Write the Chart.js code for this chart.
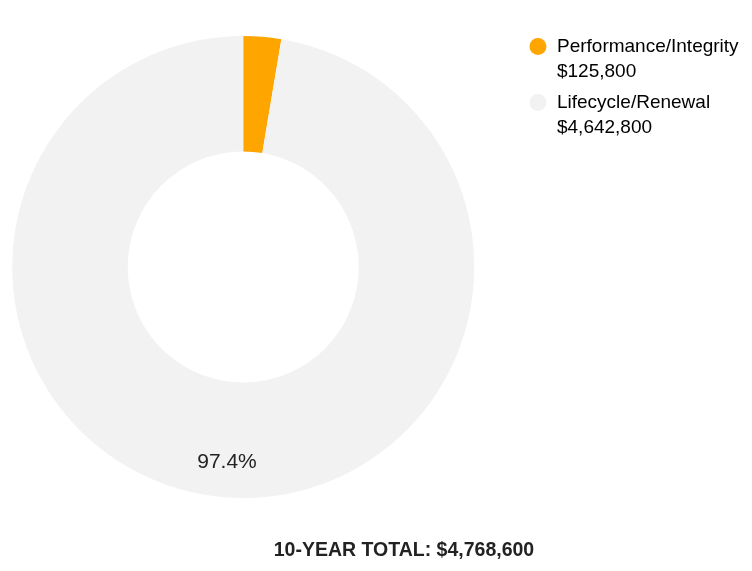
<!DOCTYPE html>
<html lang="en">
<head>
    <meta charset="UTF-8">
    <title>10-Year Cost Split</title>
    <style>
        body {
            margin: 0;
            background: #ffffff;
            font-family: "Liberation Sans", Arial, sans-serif;
            overflow: hidden;
        }
        .wrap {
            position: relative;
            width: 752px;
            height: 571px;
            overflow: hidden;
        }
        /* canvas pushed a bit to the left so the ring sits where it does in the original */
        #costChart {
            position: absolute;
            left: -36px;
            top: 0;
        }
        #total {
            position: absolute;
            left: 152px;
            width: 504px;
            top: 538px;
            text-align: center;
            font-size: 19.5px;
            font-weight: bold;
            color: #222;
        }
    </style>
</head>
<body>
    <div class="wrap">
        <canvas id="costChart" width="788" height="571"></canvas>
        <div id="total"></div>
    </div>

    <script src="https://cdn.jsdelivr.net/npm/chart.js"></script>
    <script>
        // data
        const categories = ['Performance/Integrity', 'Lifecycle/Renewal'];
        const amounts = [125800, 4642800];
        const sliceColors = ['#ffa500', '#f2f2f2'];
        const totalLabel = '10-YEAR TOTAL: ';

        const total = amounts.reduce((a, b) => a + b, 0);
        function money(v) {
            return '$' + v.toLocaleString('en-US');
        }
        document.getElementById('total').innerText = totalLabel + money(total);

        // percentage label inside the ring (small slices skipped)
        const sliceLabels = {
            id: 'sliceLabels',
            afterDatasetsDraw(chart) {
                const ctx = chart.ctx;
                const meta = chart.getDatasetMeta(0);
                ctx.save();
                ctx.font = '21px "Liberation Sans", Arial, sans-serif';
                ctx.fillStyle = '#222';
                ctx.textAlign = 'center';
                ctx.textBaseline = 'middle';
                meta.data.forEach((arc, i) => {
                    const pct = amounts[i] / total * 100;
                    if (pct < 5) return;
                    const p = arc.getProps(['x', 'y', 'startAngle', 'endAngle', 'innerRadius', 'outerRadius'], true);
                    const mid = (p.startAngle + p.endAngle) / 2;
                    const r = p.innerRadius + (p.outerRadius - p.innerRadius) * 0.7;
                    ctx.fillText(pct.toFixed(1) + '%', p.x + Math.cos(mid) * r, p.y + Math.sin(mid) * r);
                });
                ctx.restore();
            }
        };

        window.onload = function() {
            const ctx = document.getElementById('costChart').getContext('2d');
            new Chart(ctx, {
                type: 'doughnut',
                data: {
                    labels: categories,
                    datasets: [{
                        data: amounts,
                        backgroundColor: sliceColors,
                        borderWidth: 0,
                        hoverOffset: 0
                    }]
                },
                options: {
                    responsive: false,
                    animation: false,
                    radius: 231,
                    cutout: '50%',
                    layout: {
                        padding: { top: 31, bottom: 68, left: 0, right: 3.4 }
                    },
                    plugins: {
                        tooltip: { enabled: false },
                        legend: {
                            position: 'right',
                            align: 'start',
                            labels: {
                                usePointStyle: true,
                                pointStyle: 'circle',
                                boxWidth: 19,
                                boxHeight: 12,
                                padding: 6,
                                color: '#333',
                                font: { family: '"Liberation Sans", Arial, sans-serif', size: 19, lineHeight: 25 / 19 },
                                generateLabels: function(chart) {
                                    return categories.map((name, i) => ({
                                        text: [name, money(amounts[i])],
                                        fillStyle: sliceColors[i],
                                        strokeStyle: sliceColors[i],
                                        lineWidth: 0,
                                        pointStyle: 'circle',
                                        hidden: false,
                                        index: i
                                    }));
                                }
                            }
                        }
                    }
                },
                plugins: [sliceLabels]
            });
        };
    </script>
</body>
</html>
